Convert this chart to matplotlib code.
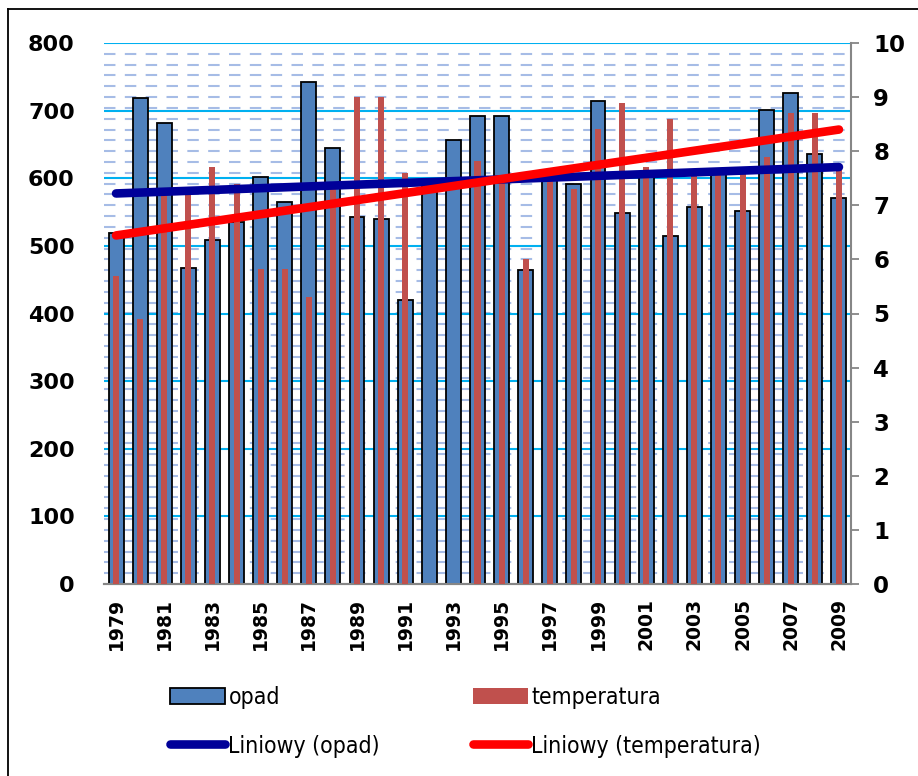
import numpy as np
import matplotlib as mpl
mpl.use('Agg')
import matplotlib.pyplot as plt
from matplotlib.lines import Line2D

years = list(range(1979, 2010))
opad = [519, 718, 681, 467, 509, 536, 602, 565, 743, 645,
        543, 540, 420, 592, 657, 692, 692, 464, 600, 592,
        714, 548, 605, 514, 558, 607, 551, 701, 726, 636, 571]
temperatura = [5.70, 4.90, 7.20, 7.25, 7.70, 7.40, 5.82, 5.82, 5.31, 7.35,
               9.01, 9.00, 7.59, np.nan, np.nan, 7.81, 7.50, 6.00, 7.45, 7.30,
               8.41, 8.90, 7.70, 8.60, 7.55, 7.60, 7.60, 7.90, 8.70, 8.70, 7.65]

W, H = 918, 776
fig = plt.figure(figsize=(W / 100, H / 100), dpi=100)
ax = fig.add_axes([104 / W, 192 / H, 747 / W, 541 / H])
ax2 = ax.twinx()

x = np.arange(len(years))
opad = np.array(opad, dtype=float)
temp = np.array(temperatura, dtype=float)
ok = ~np.isnan(temp)

# gridlines (behind the bars)
for v in np.arange(0.2, 10.0, 0.2):
    ax.axhline(v * 80, color='#a6bce6', lw=1.5, ls=(0, (5.5, 4.5)), zorder=1)
for v in range(100, 801, 100):
    ax.axhline(v, color='#00b0f0', lw=1.5, zorder=1.5)

b1 = ax.bar(x, opad, width=0.62, color='#4f81bd', edgecolor='black',
            linewidth=1.3, zorder=3, label='opad')
b2 = ax2.bar(x[ok], temp[ok], width=0.25, color='#c0504d', zorder=3,
             label='temperatura')

# linear trends
p1 = np.polyfit(x, opad, 1)
p2 = np.polyfit(x[ok], temp[ok], 1)
l1, = ax2.plot(x, np.polyval(p1, x), color='#000099', lw=6.2,
               solid_capstyle='round', transform=ax.transData, zorder=5,
               label='Liniowy (opad)')
l2, = ax2.plot(x, np.polyval(p2, x), color='#ff0000', lw=6.2,
               solid_capstyle='round', zorder=6,
               label='Liniowy (temperatura)')

ax.set_xlim(-0.5, len(years) - 0.5)
ax.set_ylim(0, 800)
ax2.set_ylim(0, 10)

ax.set_yticks(range(0, 801, 100))
ax2.set_yticks(range(0, 11))
ax.set_xticks(x[::2])
ax.set_xticklabels([str(y) for y in years[::2]], rotation=90,
                   fontsize=13.5, fontweight='bold')

for a in (ax, ax2):
    for s in ('top', 'left', 'right'):
        a.spines[s].set_visible(False)
    a.spines['bottom'].set_color('#868686')
    a.spines['bottom'].set_linewidth(1.5)
ax2.spines['right'].set_visible(True)
ax2.spines['right'].set_color('#868686')
ax2.spines['right'].set_linewidth(1.5)

ax.tick_params(axis='y', length=0, pad=21, labelsize=16)
ax.tick_params(axis='x', length=0, pad=10)
ax2.tick_params(axis='y', length=6, width=1.3, color='#868686',
                pad=10, labelsize=16.5)
for lab in ax.get_yticklabels() + ax2.get_yticklabels():
    lab.set_fontweight('bold')

fig.legend(handles=[b1, l1, b2, l2], ncol=2, loc='upper left',
           bbox_to_anchor=(170 / W, 1 - 686 / H), frameon=False,
           prop={'family': 'DejaVu Sans', 'stretch': 'condensed', 'size': 16.5},
           handlelength=2.4, handleheight=0.75, handletextpad=0.15,
           labelspacing=1.12, columnspacing=4.05, borderpad=0, borderaxespad=0)

# outer frame
fig.add_artist(Line2D([8 / W, 8 / W], [0, 1 - 9 / H], color='black', lw=1.3,
                      transform=fig.transFigure))
fig.add_artist(Line2D([8 / W, 1], [1 - 9 / H, 1 - 9 / H], color='black', lw=1.3,
                      transform=fig.transFigure))

fig.savefig('out.png', dpi=100)
